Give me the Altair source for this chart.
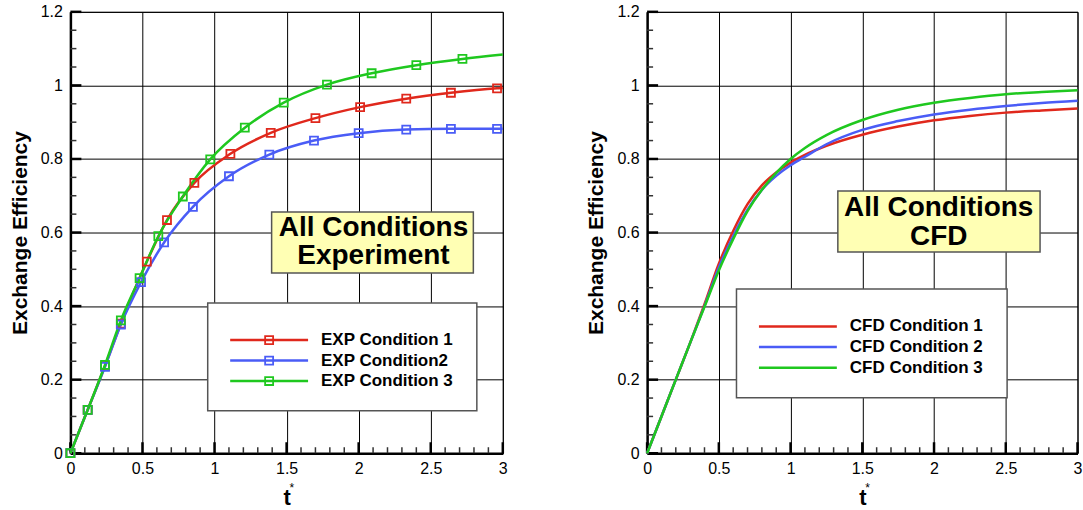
import altair as alt
import pandas as pd

FONT = "Liberation Sans"

# Experiment: sample times t* and measured exchange efficiency per condition
exp1_t = [0.0, 0.12, 0.24, 0.35, 0.53, 0.67, 0.86, 1.11, 1.39, 1.70, 2.01, 2.33, 2.64, 2.96]
exp1_e = [0.0, 0.118, 0.237, 0.352, 0.521, 0.634, 0.735, 0.814, 0.871, 0.911, 0.941, 0.964, 0.980, 0.992]
exp2_t = [0.0, 0.12, 0.24, 0.35, 0.49, 0.65, 0.85, 1.10, 1.38, 1.69, 2.00, 2.33, 2.64, 2.96]
exp2_e = [0.0, 0.118, 0.235, 0.350, 0.465, 0.573, 0.670, 0.753, 0.812, 0.850, 0.870, 0.880, 0.882, 0.882]
exp3_t = [0.0, 0.12, 0.24, 0.35, 0.48, 0.61, 0.78, 0.97, 1.21, 1.48, 1.78, 2.09, 2.40, 2.72]
exp3_e = [0.0, 0.118, 0.240, 0.361, 0.476, 0.590, 0.698, 0.799, 0.885, 0.953, 1.002, 1.033, 1.055, 1.072]
# fitted curves run on to the end of the time window
exp_end_t = 3.0
exp_end_e = [0.993, 0.882, 1.084]
exp_labels = ["EXP Condition 1", "EXP Condition2", "EXP Condition 3"]

# CFD: exchange efficiency histories
cfd_t = [0.0, 0.1, 0.2, 0.3, 0.4, 0.5, 0.6, 0.7, 0.8, 0.9, 1.0, 1.1, 1.25, 1.5, 1.75,
         2.0, 2.25, 2.5, 2.75, 3.0]
cfd1_e = [0.0, 0.1, 0.2, 0.3, 0.405, 0.515, 0.604, 0.677, 0.728, 0.763, 0.790, 0.811,
          0.836, 0.866, 0.888, 0.905, 0.917, 0.926, 0.932, 0.937]
cfd2_e = [0.0, 0.1, 0.2, 0.3, 0.400, 0.505, 0.590, 0.662, 0.716, 0.754, 0.783, 0.806,
          0.840, 0.879, 0.903, 0.921, 0.934, 0.944, 0.952, 0.958]
cfd3_e = [0.0, 0.1, 0.2, 0.3, 0.398, 0.497, 0.582, 0.658, 0.716, 0.762, 0.800, 0.830,
          0.865, 0.906, 0.934, 0.953, 0.966, 0.976, 0.982, 0.987]
cfd_labels = ["CFD Condition 1", "CFD Condition 2", "CFD Condition 3"]

colors = ["#e0281c", "#4a5cf6", "#1fc81f"]

# axis ticks
x_major = [0, 0.5, 1, 1.5, 2, 2.5, 3]
x_minor = [0.1, 0.2, 0.3, 0.4, 0.6, 0.7, 0.8, 0.9, 1.1, 1.2, 1.3, 1.4, 1.6, 1.7, 1.8, 1.9,
           2.1, 2.2, 2.3, 2.4, 2.6, 2.7, 2.8, 2.9]
y_major = [0, 0.2, 0.4, 0.6, 0.8, 1.0, 1.2]
y_minor = [0.05, 0.1, 0.15, 0.25, 0.3, 0.35, 0.45, 0.5, 0.55, 0.65, 0.7, 0.75, 0.85, 0.9,
           0.95, 1.05, 1.1, 1.15]

H = 442
one = pd.DataFrame({"k": [0]})


def build_panel(line_df, mark_df, labels, with_markers, box_text, box, legend, W):
    xs = alt.Scale(domain=[0, 3], nice=False, zero=False)
    ys = alt.Scale(domain=[0, 1.2], nice=False, zero=False)
    col = alt.Color("series:N", scale=alt.Scale(domain=labels, range=colors), legend=None)

    xax = alt.Axis(values=x_major, format="~g", title="t", grid=True, gridColor="black",
                   gridWidth=1, ticks=False, domainColor="black", domainWidth=2.5,
                   labelFont=FONT, labelFontSize=16, labelColor="black", labelPadding=7,
                   labelFlush=False, titleFont=FONT, titleFontSize=22,
                   titleFontWeight="bold", titleColor="black", titlePadding=11)
    yax = alt.Axis(values=y_major, format="~g", title="Exchange Efficiency", grid=True,
                   gridColor="black", gridWidth=1, ticks=False, domainColor="black",
                   domainWidth=2.5, labelFont=FONT, labelFontSize=16, labelColor="black",
                   labelPadding=8, titleFont=FONT, titleFontSize=21, titleFontWeight="bold",
                   titleColor="black", titlePadding=10)

    lines = alt.Chart(line_df).mark_line(interpolate="monotone", strokeWidth=2.5).encode(
        x=alt.X("t:Q", scale=xs, axis=xax),
        y=alt.Y("e:Q", scale=ys, axis=yax),
        color=col,
    )

    layers = []
    # inward minor and major ticks along the left and bottom axes
    layers.append(alt.Chart(pd.DataFrame({"v": x_minor})).mark_rule(
        color="#333", strokeWidth=1.5).encode(x="v:Q", y=alt.value(H), y2=alt.value(H - 6)))
    layers.append(alt.Chart(pd.DataFrame({"v": x_major})).mark_rule(
        color="black", strokeWidth=2.5).encode(x="v:Q", y=alt.value(H), y2=alt.value(H - 11)))
    layers.append(alt.Chart(pd.DataFrame({"v": y_minor})).mark_rule(
        color="#333", strokeWidth=1.5).encode(y="v:Q", x=alt.value(0), x2=alt.value(6)))
    layers.append(alt.Chart(pd.DataFrame({"v": y_major})).mark_rule(
        color="black", strokeWidth=2.5).encode(y="v:Q", x=alt.value(0), x2=alt.value(11)))

    layers.append(lines)
    if mark_df is not None:
        layers.append(alt.Chart(mark_df).mark_point(
            shape="square", filled=False, size=64, strokeWidth=1.8, opacity=1).encode(
            x="t:Q", y="e:Q", color=col))

    # title box
    bx0, by0, bx1, by1 = box["rect"]
    layers.append(alt.Chart(one).mark_rect(fill="#ffffb4", stroke="#555555",
                                           strokeWidth=1.5).encode(
        x=alt.value(bx0), x2=alt.value(bx1), y=alt.value(by0), y2=alt.value(by1)))
    for i, txt in enumerate(box_text):
        layers.append(alt.Chart(one).mark_text(
            text=txt, font=FONT, fontSize=28, fontWeight="bold", color="black",
            align="center", baseline="middle").encode(
            x=alt.value(box["cx"]), y=alt.value(box["cy"] + i * box["lh"])))

    # legend
    lx0, ly0, lx1, ly1 = legend["rect"]
    layers.append(alt.Chart(one).mark_rect(fill="white", stroke="#555555",
                                           strokeWidth=1.5).encode(
        x=alt.value(lx0), x2=alt.value(lx1), y=alt.value(ly0), y2=alt.value(ly1)))
    for i, (lab, c) in enumerate(zip(labels, colors)):
        yy = legend["row0"] + i * legend["gap"]
        layers.append(alt.Chart(one).mark_rule(color=c, strokeWidth=2.5).encode(
            x=alt.value(legend["l0"]), x2=alt.value(legend["l1"]), y=alt.value(yy)))
        if with_markers:
            layers.append(alt.Chart(one).mark_point(
                shape="square", filled=False, size=64, strokeWidth=1.8, color=c,
                opacity=1).encode(x=alt.value((legend["l0"] + legend["l1"]) / 2),
                                  y=alt.value(yy)))
        layers.append(alt.Chart(one).mark_text(
            text=lab, font=FONT, fontSize=17, fontWeight="bold", color="black",
            align="left", baseline="middle").encode(
            x=alt.value(legend["tx"]), y=alt.value(yy)))

    # superscript star of the t* axis title
    layers.append(alt.Chart(one).mark_text(
        text="*", font=FONT, fontSize=12, color="black", align="left",
        baseline="middle").encode(x=alt.value(W / 2 + 3), y=alt.value(H + 35)))

    return alt.layer(*layers).properties(width=W, height=H)


def long_form(ts, es, labels):
    rows = []
    for t, e, lab in zip(ts, es, labels):
        for a, b in zip(t, e):
            rows.append({"t": a, "e": b, "series": lab})
    return pd.DataFrame(rows)


exp_marks = long_form([exp1_t, exp2_t, exp3_t], [exp1_e, exp2_e, exp3_e], exp_labels)
exp_lines = long_form(
    [exp1_t + [exp_end_t], exp2_t + [exp_end_t], exp3_t + [exp_end_t]],
    [exp1_e + [exp_end_e[0]], exp2_e + [exp_end_e[1]], exp3_e + [exp_end_e[2]]],
    exp_labels)
cfd_lines = long_form([cfd_t] * 3, [cfd1_e, cfd2_e, cfd3_e], cfd_labels)

left = build_panel(
    exp_lines, exp_marks, exp_labels, True, ["All Conditions", "Experiment"],
    {"rect": (201.5, 200.5, 403.5, 261.5), "cx": 303.5, "cy": 216.5, "lh": 28.5},
    {"rect": (137.5, 291.5, 407, 399.5), "row0": 328.7, "gap": 20.5,
     "l0": 160, "l1": 238, "tx": 251},
    433)

right = build_panel(
    cfd_lines, None, cfd_labels, False, ["All Conditions", "CFD"],
    {"rect": (191, 179.5, 393.5, 240.5), "cx": 292, "cy": 196.5, "lh": 28.5},
    {"rect": (89.5, 277.5, 360.5, 386.5), "row0": 315, "gap": 20.7,
     "l0": 112, "l1": 190, "tx": 203},
    431)

chart = alt.hconcat(left, right, spacing=76.5).properties(
    padding={"left": 8.5, "top": 2.5, "right": 0, "bottom": 0},
    background="white",
).configure_view(stroke="black", strokeWidth=1)

chart.save("out.html", embed_options={"renderer": "svg", "actions": False})
